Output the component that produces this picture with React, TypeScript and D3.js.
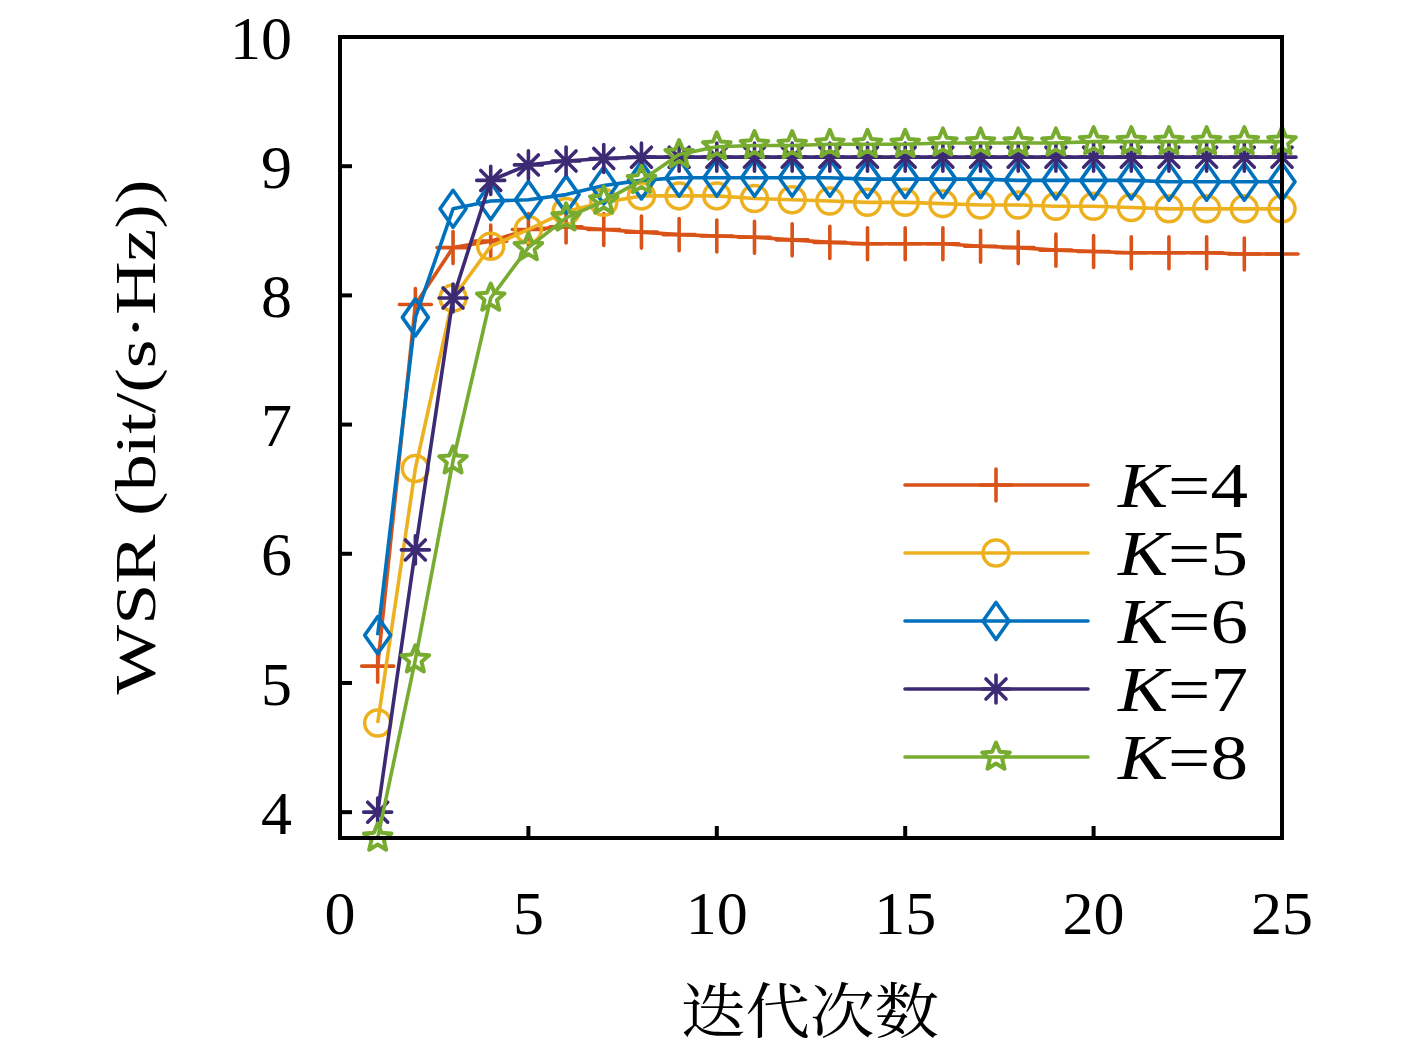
import React from "react";
import * as d3 from "d3";

const iterations = [1, 2, 3, 4, 5, 6, 7, 8, 9, 10, 11, 12, 13, 14, 15, 16, 17, 18, 19, 20, 21, 22, 23, 24, 25];
const seriesLabels = ["4", "5", "6", "7", "8"];
const seriesColors = ["#D95319", "#EDB120", "#0072BD", "#3D2A74", "#77AC30"];
const seriesMarkers = ["plus", "circle", "diamond", "asterisk", "pentagram"];
const k4 = [5.13, 7.93, 8.37, 8.42, 8.51, 8.53, 8.51, 8.49, 8.47, 8.46, 8.45, 8.43, 8.41, 8.40, 8.40, 8.40, 8.38, 8.37, 8.35, 8.34, 8.33, 8.33, 8.33, 8.32, 8.32];
const k5 = [4.69, 6.66, 7.98, 8.38, 8.51, 8.65, 8.72, 8.77, 8.77, 8.77, 8.75, 8.74, 8.73, 8.72, 8.72, 8.71, 8.70, 8.70, 8.69, 8.69, 8.68, 8.67, 8.67, 8.67, 8.67];
const k6 = [5.37, 7.83, 8.67, 8.73, 8.74, 8.78, 8.85, 8.89, 8.91, 8.91, 8.91, 8.91, 8.91, 8.90, 8.90, 8.90, 8.90, 8.89, 8.89, 8.89, 8.89, 8.88, 8.88, 8.88, 8.88];
const k7 = [4.00, 6.03, 7.98, 8.89, 9.01, 9.04, 9.06, 9.07, 9.07, 9.07, 9.07, 9.07, 9.07, 9.07, 9.07, 9.07, 9.07, 9.07, 9.07, 9.07, 9.07, 9.07, 9.07, 9.07, 9.07];
const k8 = [3.80, 5.18, 6.72, 7.98, 8.37, 8.60, 8.73, 8.89, 9.09, 9.15, 9.16, 9.16, 9.17, 9.17, 9.17, 9.18, 9.18, 9.18, 9.18, 9.19, 9.19, 9.19, 9.19, 9.19, 9.19];
const seriesValues = [k4, k5, k6, k7, k8];
const xTicks = [0, 5, 10, 15, 20, 25];
const yTicks = [4, 5, 6, 7, 8, 9, 10];
const xLabel = "迭代次数";
const yLabel = "WSR (bit/(s·Hz))";

const W = 1417;
const H = 1050;
const left = 340, right = 1282, top = 37, bottom = 838;
const SERIF = "'Liberation Serif', 'DejaVu Serif', serif";

function markerPath(kind: string): string {
  switch (kind) {
    case "plus":
      return "M-16,0H16M0,-16V16";
    case "diamond":
      return "M0,-18.5L13,0L0,18.5L-13,0Z";
    case "asterisk": {
      const r = 14, d = 10;
      return `M0,${-r}V${r}M${-r},0H${r}M${-d},${-d}L${d},${d}M${-d},${d}L${d},${-d}`;
    }
    case "pentagram": {
      const ro = 14.5, ri = 6.5;
      const pts: string[] = [];
      for (let i = 0; i < 10; i++) {
        const r = i % 2 === 0 ? ro : ri;
        const a = -Math.PI / 2 + (i * Math.PI) / 5;
        pts.push(`${(r * Math.cos(a)).toFixed(2)},${(r * Math.sin(a)).toFixed(2)}`);
      }
      return "M" + pts.join("L") + "Z";
    }
    default:
      return "";
  }
}

function Marker({ kind, color, x, y }: { kind: string; color: string; x: number; y: number }) {
  if (kind === "circle") {
    return <circle cx={x} cy={y} r={13} fill="none" stroke={color} strokeWidth={3.5} />;
  }
  return (
    <path
      d={markerPath(kind)}
      transform={`translate(${x},${y})`}
      fill="none"
      stroke={color}
      strokeWidth={kind === "pentagram" ? 4 : 3.6}
      strokeLinejoin="round"
      strokeLinecap="round"
    />
  );
}

export default function App() {
  const x = d3.scaleLinear().domain([0, 25]).range([left, right]);
  const y = d3.scaleLinear().domain([3.8, 10]).range([bottom, top]);
  const line = d3
    .line<number>()
    .x((_, i) => x(iterations[i]))
    .y((v) => y(v));

  const legendRows = [485, 553, 621, 689, 757];

  return (
    <svg
      width={W}
      height={H}
      viewBox={`0 0 ${W} ${H}`}
      style={{ position: "absolute", left: 0, top: 0, background: "#fff" }}
    >
      <rect x={0} y={0} width={W} height={H} fill="#fff" />
      {/* series */}
      {seriesValues.map((vals, si) => (
        <g key={si}>
          <path d={line(vals) || ""} fill="none" stroke={seriesColors[si]} strokeWidth={3.6} strokeLinejoin="round" />
          {vals.map((v, i) => (
            <Marker key={i} kind={seriesMarkers[si]} color={seriesColors[si]} x={x(iterations[i])} y={y(v)} />
          ))}
        </g>
      ))}
      {/* frame */}
      <rect x={left} y={top} width={right - left} height={bottom - top} fill="none" stroke="#000" strokeWidth={4} />
      {/* y ticks */}
      {yTicks.map((t) => (
        <g key={t}>
          <line x1={left} x2={left + 12} y1={y(t)} y2={y(t)} stroke="#000" strokeWidth={4} />
          <text
            x={292}
            y={y(t)}
            dy="0.35em"
            textAnchor="end"
            fontFamily={SERIF}
            fontSize={62}
            fill="#000"
          >
            {t}
          </text>
        </g>
      ))}
      {/* x ticks */}
      {xTicks.map((t) => (
        <g key={t}>
          {t > 0 && t < 25 && (
            <line x1={x(t)} x2={x(t)} y1={bottom} y2={bottom - 12} stroke="#000" strokeWidth={4} />
          )}
          <text x={x(t)} y={912} dy="0.35em" textAnchor="middle" fontFamily={SERIF} fontSize={62} fill="#000">
            {t}
          </text>
        </g>
      ))}
      {/* axis labels */}
      <text
        x={810}
        y={1033}
        textAnchor="middle"
        fontFamily="'Noto Serif CJK SC', 'Noto Sans CJK SC', sans-serif"
        fontSize={60}
        textLength={258}
        lengthAdjust="spacingAndGlyphs"
        fill="#000"
      >
        {xLabel}
      </text>
      <text
        transform="translate(135,437) rotate(-90)"
        textAnchor="middle"
        dy="0.35em"
        fontFamily={SERIF}
        fontSize={56}
        textLength={515}
        lengthAdjust="spacingAndGlyphs"
        fill="#000"
      >
        {yLabel}
      </text>
      {/* legend */}
      {seriesLabels.map((lab, si) => (
        <g key={lab}>
          <line x1={905} x2={1088} y1={legendRows[si]} y2={legendRows[si]} stroke={seriesColors[si]} strokeWidth={3.6} strokeLinecap="round" />
          <Marker kind={seriesMarkers[si]} color={seriesColors[si]} x={996} y={legendRows[si]} />
          <text
            x={1118}
            y={legendRows[si]}
            dy="0.35em"
            fontFamily={SERIF}
            fontSize={64}
            textLength={130}
            lengthAdjust="spacingAndGlyphs"
            fill="#000"
          >
            <tspan fontStyle="italic">K</tspan>
            <tspan>={lab}</tspan>
          </text>
        </g>
      ))}
    </svg>
  );
}
